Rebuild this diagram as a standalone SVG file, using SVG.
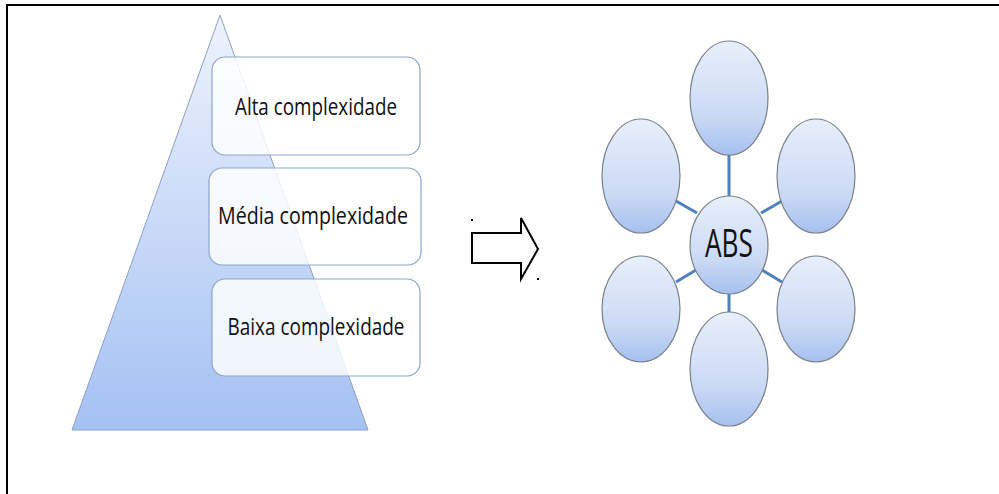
<svg xmlns="http://www.w3.org/2000/svg" width="999" height="494" viewBox="0 0 999 494">
  <style>
    .frame { stroke: #000; stroke-width: 2; fill: none; }
    .level { fill: #ffffff; fill-opacity: 0.82; stroke: #8da6cc; stroke-width: 1.2; }
    .label { font-family: "Open Sans", "Liberation Sans", sans-serif; font-size: 24px; fill: #111; text-anchor: middle; }
    .bubble { fill: url(#bubbleFill); stroke: #7a7f88; stroke-width: 1.2; }
    .link { stroke: #4f81bd; stroke-width: 3; fill: none; }
    .shift { fill: #fff; stroke: #000; stroke-width: 2; stroke-linejoin: miter; }
  </style>
  <defs>
    <linearGradient id="pyramidFill" x1="0" y1="0" x2="0" y2="1">
      <stop offset="0" stop-color="#eef3fc"/>
      <stop offset="1" stop-color="#a4c1f3"/>
    </linearGradient>
    <linearGradient id="bubbleFill" x1="0" y1="0" x2="0" y2="1">
      <stop offset="0" stop-color="#e8effb"/>
      <stop offset="0.65" stop-color="#cbdaf4"/>
      <stop offset="1" stop-color="#a5c0f0"/>
    </linearGradient>
  </defs>
  <rect width="999" height="494" fill="#fff"/>

  <!-- outer frame: top and left edges only -->
  <path class="frame" d="M7 494 V5 H999"/>

  <!-- pyramid with the three care levels -->
  <g id="pyramid">
    <polygon points="220,15 368,430 72,430" fill="url(#pyramidFill)" stroke="#8e9fbf" stroke-width="1"/>
  </g>
  <g id="alta">
    <rect class="level" x="212" y="57" width="208" height="98" rx="13"/>
    <text class="label" x="316" y="115" textLength="162" lengthAdjust="spacingAndGlyphs">Alta complexidade</text>
  </g>
  <g id="media">
    <rect class="level" x="209" y="168" width="212" height="97" rx="13"/>
    <text class="label" x="313" y="224" textLength="190" lengthAdjust="spacingAndGlyphs">Média complexidade</text>
  </g>
  <g id="baixa">
    <rect class="level" x="212" y="279" width="208" height="97" rx="13"/>
    <text class="label" x="316" y="335" textLength="177" lengthAdjust="spacingAndGlyphs">Baixa complexidade</text>
  </g>

  <!-- transition arrow -->
  <g id="arrow">
    <polygon class="shift" points="472,233 521,233 521,218 538,249 521,279 521,263 472,263"/>
    <rect x="471" y="219" width="2" height="2" fill="#000"/>
    <rect x="537" y="278" width="2" height="2" fill="#000"/>
  </g>

  <!-- spokes of the network -->
  <g id="connectors">
    <line class="link" x1="729" y1="155" x2="729" y2="196"/>
    <line class="link" x1="729" y1="294" x2="729" y2="312"/>
    <line class="link" x1="676" y1="201" x2="697" y2="213"/>
    <line class="link" x1="782" y1="201" x2="761" y2="213"/>
    <line class="link" x1="676" y1="282" x2="696" y2="270"/>
    <line class="link" x1="782" y1="282" x2="762" y2="270"/>
  </g>

  <!-- network nodes -->
  <g id="node-top"><ellipse class="bubble" cx="729" cy="98" rx="39" ry="57"/></g>
  <g id="node-upper-left"><ellipse class="bubble" cx="641" cy="176" rx="39" ry="57"/></g>
  <g id="node-upper-right"><ellipse class="bubble" cx="816" cy="176" rx="39" ry="57"/></g>
  <g id="node-lower-left"><ellipse class="bubble" cx="641" cy="309" rx="39" ry="53"/></g>
  <g id="node-lower-right"><ellipse class="bubble" cx="816" cy="309" rx="39" ry="53"/></g>
  <g id="node-bottom"><ellipse class="bubble" cx="729" cy="369" rx="39" ry="57"/></g>
  <g id="node-abs">
    <ellipse class="bubble" cx="729" cy="245" rx="39" ry="49"/>
    <text x="729" y="257" font-family="'Open Sans', 'Liberation Sans', sans-serif" font-size="38" fill="#111" text-anchor="middle" textLength="48" lengthAdjust="spacingAndGlyphs">ABS</text>
  </g>
</svg>
